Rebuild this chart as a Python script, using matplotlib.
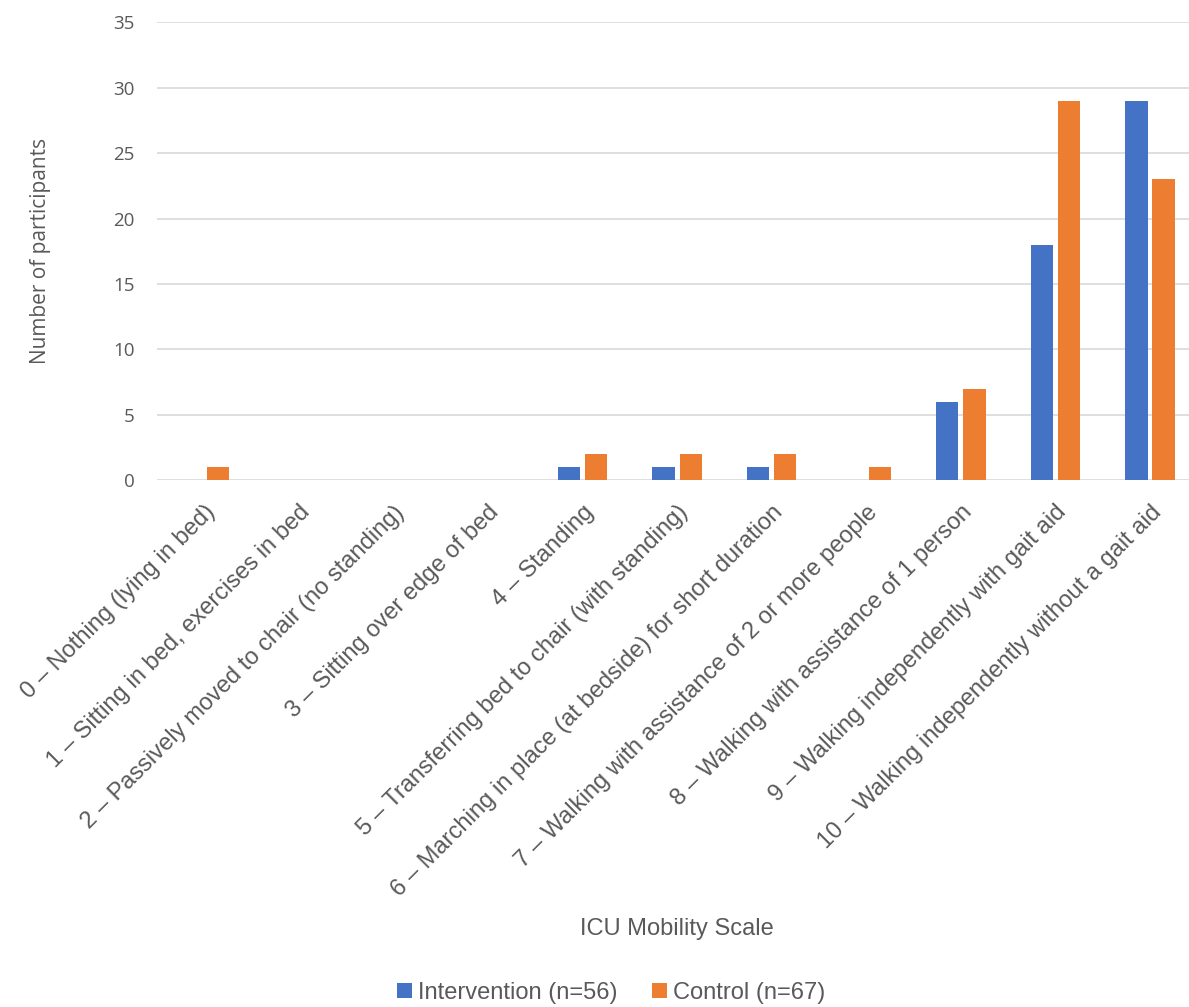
import numpy as np
import matplotlib.pyplot as plt

categories = [
    "0 \u2013 Nothing (lying in bed)",
    "1 \u2013 Sitting in bed, exercises in bed",
    "2 \u2013 Passively moved to chair (no standing)",
    "3 \u2013 Sitting over edge of bed",
    "4 \u2013 Standing",
    "5 \u2013 Transferring bed to chair (with standing)",
    "6 \u2013 Marching in place (at bedside) for short duration",
    "7 \u2013 Walking with assistance of 2 or more people",
    "8 \u2013 Walking with assistance of 1 person",
    "9 \u2013 Walking independently with gait aid",
    "10 \u2013 Walking independently without a gait aid",
]
intervention = [0, 0, 0, 0, 1, 1, 1, 0, 6, 18, 29]
control = [1, 0, 0, 0, 2, 2, 2, 1, 7, 29, 23]

blue = "#4472C4"
orange = "#ED7D31"
grey = "#595959"

fig = plt.figure(figsize=(11.89, 10.07), dpi=100)
ax = fig.add_axes([0.132, 0.523, 0.875, 0.455])

x = np.arange(len(categories))
w = 0.235
ax.bar(x - 0.143, intervention, w, color=blue, label="Intervention (n=56)", zorder=3)
ax.bar(x + 0.143, control, w, color=orange, label="Control (n=67)", zorder=3)

ax.set_xlim(-0.5, len(categories) - 0.5)
ax.set_ylim(0, 35)
ax.set_yticks(range(0, 36, 5))
ax.yaxis.grid(True, color="#D9D9D9", linewidth=1.2, zorder=0)
for s in ax.spines.values():
    s.set_visible(False)
ax.tick_params(axis="both", length=0, colors=grey)
ax.tick_params(axis="y", labelsize=13.5, pad=16)
for lab in ax.get_yticklabels():
    lab.set_family("Open Sans")

ax.set_xticks(x)
ax.set_xticklabels(categories, rotation=45, ha="right", rotation_mode="anchor",
                   fontsize=17, family="Liberation Sans", color=grey)
ax.tick_params(axis="x", pad=15)

ax.set_ylabel("Number of participants", fontsize=15, color=grey, family="Open Sans", labelpad=45)
fig.text(0.569, 0.077, "ICU Mobility Scale", ha="center", va="center",
         fontsize=17, color=grey, family="Liberation Sans")

leg = fig.legend(loc="center", bbox_to_anchor=(0.514, 0.014), ncol=2, frameon=False,
                 handlelength=0.65, handleheight=0.65, handletextpad=0.25,
                 columnspacing=1.45, prop={"family": "Liberation Sans", "size": 17})
for t in leg.get_texts():
    t.set_color(grey)

fig.savefig("out.png", dpi=100)
